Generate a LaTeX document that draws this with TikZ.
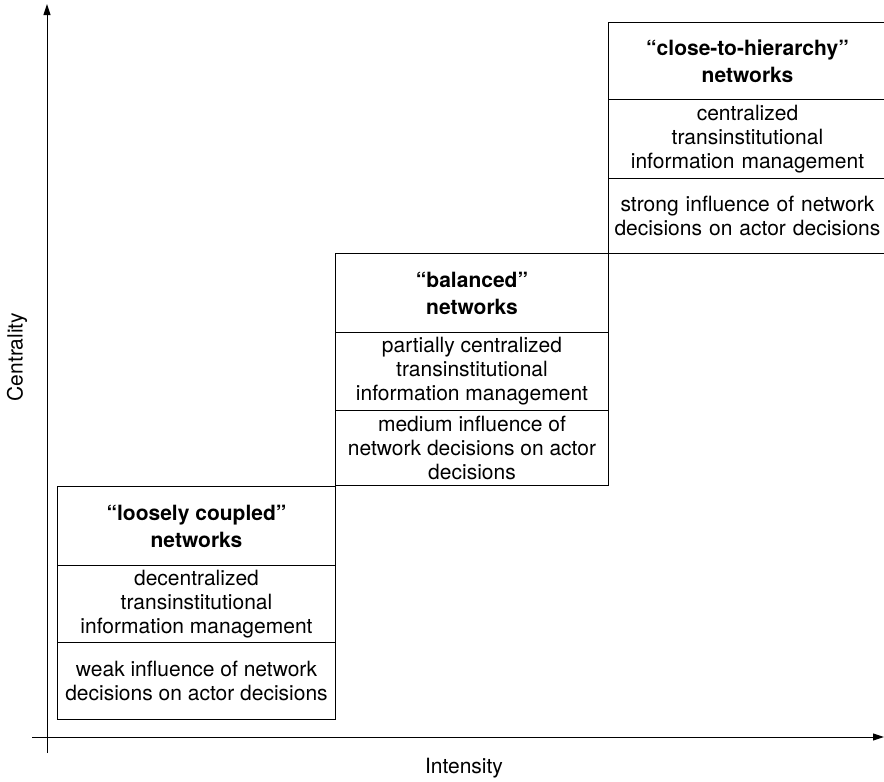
\documentclass[tikz,border=0pt]{standalone}
\usepackage{fontspec}
\setmainfont{TeX Gyre Heros}
\usetikzlibrary{arrows.meta}
\begin{document}
\begin{tikzpicture}[x=1pt,y=-1pt,
  cell/.style={draw=black, line width=1pt, anchor=north west, inner sep=0pt,
    align=center, font=\fontsize{21}{24}\selectfont},
  title/.style={cell, font=\bfseries\fontsize{21}{27}\selectfont},
  axis/.style={line width=1pt, -{Triangle[length=11pt,width=7pt]}},
  lbl/.style={font=\fontsize{21}{24}\selectfont, inner sep=0pt}]
\useasboundingbox (0,0) rectangle (884,782);
% axes
\coordinate (yb) at (47,753);
\coordinate (yt) at (47,4);
\coordinate (xl) at (32,737);
\coordinate (xr) at (884,737);
\draw[axis] (yb) -- (yt);
\draw[axis] (xl) -- (xr);
\node[lbl, rotate=90] (ylab) at (17,357) {Centrality};
\node[lbl] (xlab) at (464,768) {Intensity};
% box 1
\node[title, minimum width=278pt, minimum height=79pt] (b1t) at (57,486) {``loosely coupled''\\networks};
\node[cell, minimum width=278pt, minimum height=77pt] (b1m) at (57,565) {decentralized\\transinstitutional\\information management};
\node[cell, minimum width=278pt, minimum height=77pt] (b1b) at (57,642) {weak influence of network\\decisions on actor decisions};
% box 2
\node[title, minimum width=273pt, minimum height=79pt] (b2t) at (335,253) {``balanced''\\networks};
\node[cell, minimum width=273pt, minimum height=78pt] (b2m) at (335,332) {partially centralized\\transinstitutional\\information management};
\node[cell, minimum width=273pt, minimum height=75pt] (b2b) at (335,410) {medium influence of\\network decisions on actor\\decisions};
% box 3 (right border runs off the page, as in the reference)
\node[title, minimum width=278pt, minimum height=77pt, text width=275pt] (b3t) at (608,22) {``close-to-hierarchy''\\networks};
\node[cell, minimum width=278pt, minimum height=79pt, text width=275pt] (b3m) at (608,99) {centralized\\transinstitutional\\information management};
\node[cell, minimum width=278pt, minimum height=75pt, text width=275pt] (b3b) at (608,178) {strong influence of network\\decisions on actor decisions};
\end{tikzpicture}
\end{document}
